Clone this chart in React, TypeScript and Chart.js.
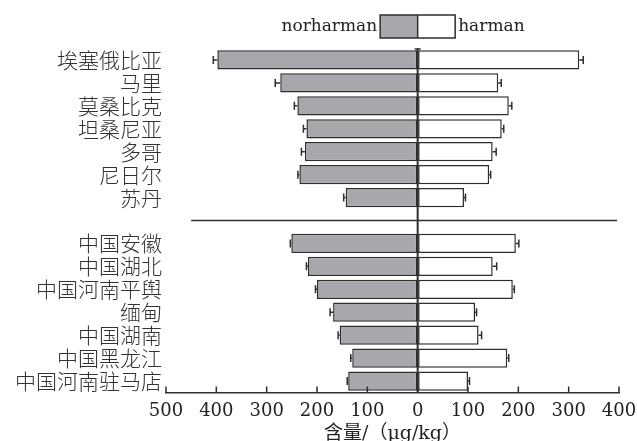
import React, { useEffect, useRef } from 'react';
import { Chart, registerables } from 'chart.js';

Chart.register(...registerables);

const categories = [
  '埃塞俄比亚', '马里', '莫桑比克', '坦桑尼亚', '多哥', '尼日尔', '苏丹',
  '',
  '中国安徽', '中国湖北', '中国河南平舆', '缅甸', '中国湖南', '中国黑龙江', '中国河南驻马店',
];

// contents in μg/kg (norharman drawn to the left)
const norharman = [398, 273, 239, 221, 224, 235, 143, null, 251, 218, 200, 168, 155, 130, 138];
const norharmanErr = [8, 10, 6, 6, 7, 3, 4, null, 2, 3, 3, 6, 3, 3, 2];
const harman = [321, 160, 181, 167, 149, 142, 92, null, 195, 149, 189, 114, 121, 178, 100];
const harmanErr = [8, 6, 6, 4, 7, 3, 3, null, 6, 8, 3, 3, 6, 3, 3];

const seriesNames = ['norharman', 'harman'];
const xMin = -500;
const xMax = 400;
const xStep = 100;
const axisTitle = '含量/（μg/kg）';

const GREY = '#a7a8ac';
const INK = '#2e2e2e';
const SERIF = '"DejaVu Serif", "Noto Sans CJK SC", serif';
const CJK = '"Noto Sans CJK SC", sans-serif';

export default function App() {
  const ref = useRef<HTMLCanvasElement>(null);

  useEffect(() => {
    document.body.style.margin = '0';
    const canvas = ref.current;
    if (!canvas) return;

    const errs = [norharmanErr, harmanErr];

    const overlay = {
      id: 'overlay',
      afterDatasetsDraw(chart: any) {
        const ctx = chart.ctx;
        const xs = chart.scales.x;
        const ys = chart.scales.y;
        const area = chart.chartArea;
        ctx.save();
        ctx.strokeStyle = INK;
        ctx.lineWidth = 1.5;
        // error bars
        chart.data.datasets.forEach((ds: any, di: number) => {
          const meta = chart.getDatasetMeta(di);
          meta.data.forEach((el: any, i: number) => {
            const v = ds.data[i];
            const e = errs[di][i];
            if (v == null || e == null) return;
            const sign = v < 0 ? -1 : 1;
            const x0 = xs.getPixelForValue(v);
            const x1 = xs.getPixelForValue(v + sign * e);
            const y = el.y;
            ctx.beginPath();
            ctx.moveTo(x0, y);
            ctx.lineTo(x1, y);
            ctx.moveTo(x1, y - 4);
            ctx.lineTo(x1, y + 4);
            ctx.stroke();
          });
        });
        // zero line with small top cap
        const zx = xs.getPixelForValue(0);
        ctx.lineWidth = 2;
        ctx.beginPath();
        ctx.moveTo(zx, area.top);
        ctx.lineTo(zx, area.bottom);
        ctx.stroke();
        ctx.lineWidth = 1.5;
        ctx.beginPath();
        ctx.moveTo(zx - 3, area.top + 0.5);
        ctx.lineTo(zx + 3, area.top + 0.5);
        ctx.stroke();
        // separator between groups
        const sepIdx = categories.indexOf('');
        const sy = ys.getPixelForValue(sepIdx);
        ctx.beginPath();
        ctx.moveTo(xs.getPixelForValue(-450), sy);
        ctx.lineTo(xs.getPixelForValue(396), sy);
        ctx.stroke();
        // inward tick marks
        ctx.beginPath();
        xs.ticks.forEach((t: any) => {
          const px = xs.getPixelForValue(t.value);
          ctx.moveTo(px, area.bottom);
          ctx.lineTo(px, area.bottom - 6);
        });
        ctx.stroke();
        // legend
        const bw = 37.5;
        const by = 15;
        const bh = 23;
        ctx.fillStyle = GREY;
        ctx.fillRect(zx - bw, by, bw, bh);
        ctx.fillStyle = '#ffffff';
        ctx.fillRect(zx, by, bw, bh);
        ctx.strokeRect(zx - bw, by, bw * 2, bh);
        ctx.beginPath();
        ctx.moveTo(zx, by);
        ctx.lineTo(zx, by + bh);
        ctx.stroke();
        ctx.fillStyle = '#222';
        ctx.font = `17px ${SERIF}`;
        ctx.textBaseline = 'middle';
        ctx.textAlign = 'right';
        ctx.fillText(seriesNames[0], zx - bw - 3, by + bh / 2 + 0.5);
        ctx.textAlign = 'left';
        ctx.fillText(seriesNames[1], zx + bw + 3, by + bh / 2 + 0.5);
        ctx.restore();
      },
    };

    const chart = new Chart(canvas, {
      type: 'bar',
      data: {
        labels: categories,
        datasets: [
          {
            label: seriesNames[0],
            data: norharman.map((v) => (v == null ? null : -v)),
            backgroundColor: GREY,
            borderColor: INK,
            borderWidth: 1.5,
            borderSkipped: false,
            barPercentage: 0.84,
            categoryPercentage: 1,
          },
          {
            label: seriesNames[1],
            data: harman,
            backgroundColor: '#ffffff',
            borderColor: INK,
            borderWidth: 1.5,
            borderSkipped: false,
            barPercentage: 0.84,
            categoryPercentage: 1,
          },
        ],
      },
      options: {
        indexAxis: 'y',
        responsive: false,
        animation: false,
        devicePixelRatio: 1,
        layout: { padding: { top: 48.5, right: 18, left: 0, bottom: 0 } },
        plugins: {
          legend: { display: false },
          tooltip: { enabled: false },
          title: { display: false },
        },
        scales: {
          x: {
            type: 'linear',
            stacked: true,
            min: xMin,
            max: xMax,
            ticks: {
              stepSize: xStep,
              callback: (v: any) => String(Math.abs(Number(v))),
              font: { family: SERIF, size: 18 },
              color: '#222',
              padding: 8,
              maxRotation: 0,
            },
            grid: { display: true, drawOnChartArea: false, drawTicks: false, color: 'rgba(0,0,0,0)' },
            border: { display: true, color: INK, width: 1.5 },
            title: {
              display: true,
              text: axisTitle,
              font: { family: SERIF, size: 19 },
              color: '#222',
              padding: { top: 0, bottom: -4 },
            },
            afterFit: (scale: any) => {
              scale.height = 48.5;
              scale.paddingLeft = 0;
              scale.paddingRight = 0;
            },
          },
          y: {
            type: 'category',
            stacked: true,
            offset: true,
            ticks: {
              autoSkip: false,
              font: { family: CJK, size: 21, weight: '300' },
              color: '#333',
              padding: 4,
            },
            grid: { display: false, drawTicks: false },
            border: { display: false },
            afterFit: (scale: any) => {
              scale.width = 166;
            },
          },
        },
      },
      plugins: [overlay],
    });

    return () => chart.destroy();
  }, []);

  return (
    <div style={{ width: 637, height: 441 }}>
      <canvas ref={ref} width={637} height={441} />
    </div>
  );
}
